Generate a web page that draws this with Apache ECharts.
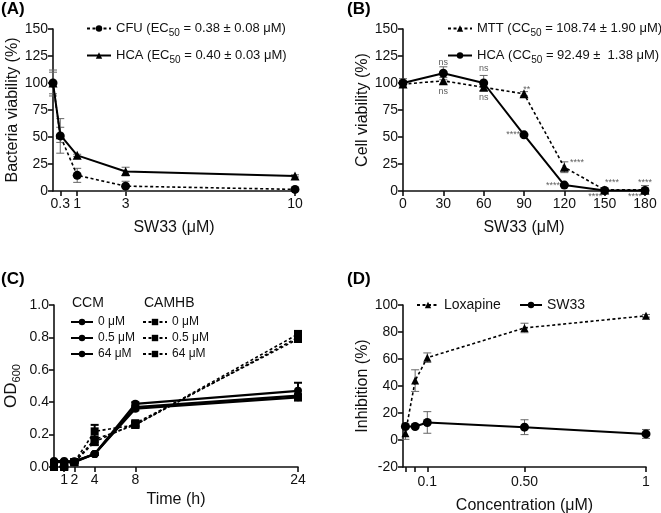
<!DOCTYPE html>
<html><head><meta charset="utf-8">
<script src="https://cdn.jsdelivr.net/npm/echarts@6/dist/echarts.min.js"></script>
<style>html,body{margin:0;padding:0;background:#fff}#c{width:661px;height:513px}</style>
</head><body><div id="c"></div>
<script>
// ---------- Panel A ----------
const aX = [0, 0.3, 1, 3, 10];
const aCFU = [100, 51, 14.5, 4.5, 1.5];
const aCFUErr = [12, 16, 6.5, 4.5, 1];
const aHCA = [100, 52, 33, 18, 14];
const aHCAErr = [10, 7, 1, 4, 1];
const aXTicks = [0.3, 1, 3, 10];
const aLegend = ['CFU (EC{s|50} = 0.38 ± 0.08 μM)', 'HCA (EC{s|50} = 0.40 ± 0.03 μM)'];
// ---------- Panel B ----------
const bX = [0, 30, 60, 90, 120, 150, 180];
const bMTT = [99, 102, 96, 90, 22, 1, 1];
const bMTTErr = [3, 3, 3, 2, 5, 1, 4];
const bHCA = [100, 109, 100, 52, 5.5, 0.5, 0.5];
const bHCAErr = [4, 6, 7, 1, 1, 1, 1];
const bLegend = ['MTT (CC{s|50} = 108.74 ± 1.90 μM)', 'HCA (CC{s|50} = 92.49 ±  1.38 μM)'];
const sigX = [30, 30, 60, 60, 92, 82, 129.5, 111.6, 155.5, 143, 180, 172.5];
const sigY = [119, 92, 113, 87, 94, 52, 26, 5.5, 8, -5.5, 8, -5.5];
const sigText = ['ns', 'ns', 'ns', 'ns', '**', '****', '****', '****', '****', '****', '****', '****'];
// ---------- Panel C ----------
const cX = [0, 1, 2, 4, 8, 24];
const cCCM0 = [0.037, 0.037, 0.035, 0.08, 0.39, 0.47];
const cCCM05 = [0.033, 0.033, 0.033, 0.08, 0.37, 0.44];
const cCCM64 = [0.03, 0.03, 0.03, 0.08, 0.36, 0.43];
const cCCM0Err = [0.005, 0.005, 0.005, 0.005, 0.01, 0.05];
const cCCM64Err = [0.005, 0.005, 0.005, 0.005, 0.01, 0.02];
const cCAM0 = [0.005, 0.005, 0.03, 0.22, 0.26, 0.82];
const cCAM05 = [0.0, 0.0, 0.03, 0.17, 0.26, 0.80];
const cCAM64 = [0.0, 0.0, 0.03, 0.155, 0.27, 0.79];
const cCAM0Err = [0.005, 0.005, 0.005, 0.04, 0.015, 0.02];
const cCAM64Err = [0.005, 0.005, 0.005, 0.02, 0.015, 0.01];
const cXTicks = [1, 2, 4, 8, 24];
const cNames = ['0 μM', '0.5 μM', '64 μM'];
// ---------- Panel D ----------
const dX = [0.01, 0.05, 0.1, 0.5, 1];
const dLox = [5, 44, 61, 83, 92];
const dLoxErr = [4.5, 8, 3.5, 3.5, 1];
const dSW = [10, 10, 13, 9.5, 4.5];
const dSWErr = [1, 1, 8, 5.5, 3.3];
const dXTicks = [0.01, 0.05, 0.1, 0.5, 1];
const dXLabelVals = [0.1, 0.5, 1];
const dXLabelText = ['0.1', '0.50', '1'];

const FONT = 'Arial, "Liberation Sans", sans-serif';
const INK = '#111';
const TICK_FS = 14;
const NAME_FS = 16;
const zip = (xs, ys) => xs.map((x, i) => [x, ys[i]]);

function xAxisDef(gi, min, max, name, gap, extra) {
  return Object.assign({
    type: 'value', gridIndex: gi, min, max, name, nameLocation: 'middle', nameGap: gap,
    nameTextStyle: { fontFamily: FONT, fontSize: NAME_FS, color: INK },
    axisLine: { onZero: false, lineStyle: { color: INK, width: 1.6 } },
    axisTick: { show: true, length: 5, lineStyle: { color: INK, width: 1.6 } },
    axisLabel: { fontFamily: FONT, fontSize: TICK_FS, color: INK, margin: 6 },
    splitLine: { show: false }
  }, extra || {});
}
function yAxisDef(gi, min, max, interval, name, gap, extra) {
  return Object.assign({
    type: 'value', gridIndex: gi, min, max, interval, name, nameLocation: 'middle', nameGap: gap,
    nameTextStyle: { fontFamily: FONT, fontSize: NAME_FS, color: INK },
    axisLine: { show: true, onZero: false, lineStyle: { color: INK, width: 1.6 } },
    axisTick: { show: true, length: 5, lineStyle: { color: INK, width: 1.6 } },
    axisLabel: { fontFamily: FONT, fontSize: TICK_FS, color: INK, margin: 5 },
    splitLine: { show: false }
  }, extra || {});
}
function lineSeries(name, gi, data, dashed, symbol, size, lw) {
  return {
    type: 'line', name, xAxisIndex: gi, yAxisIndex: gi, data, clip: false,
    symbol, symbolSize: size || 9, showSymbol: true, z: 3,
    lineStyle: { color: '#000', width: lw || (dashed ? 1.6 : 2), type: dashed ? [3, 2.5] : 'solid' },
    itemStyle: { color: '#000' }, emphasis: { disabled: true }, animation: false
  };
}
function errSeries(gi, xs, ys, es, color, lw, cap) {
  return {
    type: 'custom', xAxisIndex: gi, yAxisIndex: gi, clip: false, silent: true, z: 2, animation: false,
    data: xs.map((x, i) => [x, ys[i] - es[i], ys[i] + es[i]]),
    encode: { x: 0, y: [1, 2] },
    renderItem(params, api) {
      const x = api.value(0);
      const lo = api.coord([x, api.value(1)]);
      const hi = api.coord([x, api.value(2)]);
      const st = { stroke: color, lineWidth: lw };
      return { type: 'group', children: [
        { type: 'line', shape: { x1: lo[0], y1: lo[1], x2: hi[0], y2: hi[1] }, style: st },
        { type: 'line', shape: { x1: lo[0] - cap, y1: lo[1], x2: lo[0] + cap, y2: lo[1] }, style: st },
        { type: 'line', shape: { x1: hi[0] - cap, y1: hi[1], x2: hi[0] + cap, y2: hi[1] }, style: st }
      ]};
    }
  };
}
const subRich = { s: { fontSize: 10, fontFamily: FONT, color: INK, padding: [9, 0, 0, 0] } };
function legendDef(names, left, top, fmtMap, width, fs, itemH, gap) {
  return {
    data: names, left, top, orient: 'vertical', itemWidth: width, itemHeight: itemH || 8, itemGap: gap || 0,
    selectedMode: false, padding: 0,
    formatter: n => fmtMap[n] || n,
    textStyle: { fontFamily: FONT, fontSize: fs || 13, color: INK, rich: subRich }
  };
}

const option = {
  animation: false,
  textStyle: { fontFamily: FONT },
  grid: [
    { left: 53, top: 29, width: 242, height: 162, outerBoundsMode: 'none' },
    { left: 403, top: 29, width: 242, height: 162, outerBoundsMode: 'none' },
    { left: 54, top: 305, width: 244, height: 162, outerBoundsMode: 'none' },
    { left: 403, top: 305, width: 243, height: 162, outerBoundsMode: 'none' }
  ],
  xAxis: [
    xAxisDef(0, 0, 10, 'SW33 (μM)', 29, {
      axisTick: { show: true, length: 5, lineStyle: { color: INK, width: 1.6 }, customValues: aXTicks },
      axisLabel: { fontFamily: FONT, fontSize: TICK_FS, color: INK, margin: 6, customValues: aXTicks }
    }),
    xAxisDef(1, 0, 180, 'SW33 (μM)', 29, { interval: 30 }),
    xAxisDef(2, 0, 24, 'Time (h)', 25, {
      axisTick: { show: true, length: 5, lineStyle: { color: INK, width: 1.6 }, customValues: cXTicks },
      axisLabel: { fontFamily: FONT, fontSize: TICK_FS, color: INK, margin: 6, customValues: cXTicks }
    }),
    xAxisDef(3, 0, 1, 'Concentration (μM)', 31, {
      axisTick: { show: true, length: 5, lineStyle: { color: INK, width: 1.6 }, customValues: dXTicks },
      axisLabel: { fontFamily: FONT, fontSize: TICK_FS, color: INK, margin: 8, customValues: dXLabelVals,
        formatter: v => { const i = dXLabelVals.indexOf(v); return i >= 0 ? dXLabelText[i] : ''; } }
    })
  ],
  yAxis: [
    yAxisDef(0, 0, 150, 25, 'Bacteria viability (%)', 32),
    yAxisDef(1, 0, 150, 25, 'Cell viability (%)', 32),
    yAxisDef(2, 0, 1, 0.2, 'OD{s|600}', 32, {
      axisLabel: { fontFamily: FONT, fontSize: TICK_FS, color: INK, margin: 5, formatter: v => v.toFixed(1) },
      nameTextStyle: { fontFamily: FONT, fontSize: NAME_FS + 1, color: INK, rich: { s: { fontSize: 11, fontFamily: FONT, color: INK, padding: [10, 0, 0, 0] } } }
    }),
    yAxisDef(3, -20, 100, 20, 'Inhibition (%)', 31)
  ],
  legend: [
    legendDef(['CFU'], 86, 22, { CFU: aLegend[0] }, 24),
    legendDef(['HCA'], 86, 49, { HCA: aLegend[1] }, 24),
    legendDef(['MTT'], 447, 22, { MTT: bLegend[0] }, 24),
    legendDef(['HCA '], 447, 49, { 'HCA ': bLegend[1] }, 24),
    legendDef(['CCM 0', 'CCM 0.5', 'CCM 64'], 70, 316, { 'CCM 0': cNames[0], 'CCM 0.5': cNames[1], 'CCM 64': cNames[2] }, 22, 12, 8, 4),
    legendDef(['CAM 0', 'CAM 0.5', 'CAM 64'], 142, 316, { 'CAM 0': cNames[0], 'CAM 0.5': cNames[1], 'CAM 64': cNames[2] }, 24, 12, 8, 4),
    legendDef(['Loxapine'], 416, 298, {}, 22, 14),
    legendDef(['SW33'], 519, 298, {}, 22, 14)
  ],
  graphic: [
    { type: 'text', left: 1, top: 1, style: { text: '(A)', font: 'bold 17px ' + FONT, fill: '#000' } },
    { type: 'text', left: 347, top: 1, style: { text: '(B)', font: 'bold 17px ' + FONT, fill: '#000' } },
    { type: 'text', left: 1, top: 271, style: { text: '(C)', font: 'bold 17px ' + FONT, fill: '#000' } },
    { type: 'text', left: 347, top: 271, style: { text: '(D)', font: 'bold 17px ' + FONT, fill: '#000' } },
    { type: 'text', left: 72, top: 296, style: { text: 'CCM', font: '14px ' + FONT, fill: INK } },
    { type: 'text', left: 144, top: 296, style: { text: 'CAMHB', font: '14px ' + FONT, fill: INK } }
  ],
  series: [
    errSeries(0, aX, aCFU, aCFUErr, '#666', 1, 4),
    errSeries(0, aX, aHCA, aHCAErr, '#666', 1, 4),
    lineSeries('CFU', 0, zip(aX, aCFU), true, 'circle', 9),
    lineSeries('HCA', 0, zip(aX, aHCA), false, 'triangle', 9),

    errSeries(1, bX, bMTT, bMTTErr, '#666', 1, 4),
    errSeries(1, bX, bHCA, bHCAErr, '#666', 1, 4),
    lineSeries('MTT', 1, zip(bX, bMTT), true, 'triangle', 9),
    lineSeries('HCA ', 1, zip(bX, bHCA), false, 'circle', 9),
    {
      type: 'scatter', xAxisIndex: 1, yAxisIndex: 1, clip: false, silent: true, symbolSize: 0, z: 5,
      data: sigX.map((x, i) => ({ value: [x, sigY[i]], name: sigText[i] })),
      label: { show: true, position: 'inside', formatter: '{b}', fontFamily: FONT, fontSize: 9, color: '#333' }
    },

    errSeries(2, cX, cCCM0, cCCM0Err, '#000', 2, 4),
    errSeries(2, cX, cCCM64, cCCM64Err, '#000', 2, 4),
    errSeries(2, cX, cCAM0, cCAM0Err, '#000', 2, 4),
    errSeries(2, cX, cCAM64, cCAM64Err, '#000', 2, 4),
    lineSeries('CCM 0', 2, zip(cX, cCCM0), false, 'circle', 8, 2.2),
    lineSeries('CCM 0.5', 2, zip(cX, cCCM05), false, 'circle', 8, 2.2),
    lineSeries('CCM 64', 2, zip(cX, cCCM64), false, 'circle', 8, 2.2),
    lineSeries('CAM 0', 2, zip(cX, cCAM0), true, 'rect', 8),
    lineSeries('CAM 0.5', 2, zip(cX, cCAM05), true, 'rect', 8),
    lineSeries('CAM 64', 2, zip(cX, cCAM64), true, 'rect', 8),

    errSeries(3, dX, dLox, dLoxErr, '#666', 1, 4),
    errSeries(3, dX, dSW, dSWErr, '#666', 1, 4),
    lineSeries('Loxapine', 3, zip(dX, dLox), true, 'triangle', 8),
    lineSeries('SW33', 3, zip(dX, dSW), false, 'circle', 9)
  ]
};
const chart = echarts.init(document.getElementById('c'), null, { renderer: 'canvas' });
chart.setOption(option);
</script></body></html>
